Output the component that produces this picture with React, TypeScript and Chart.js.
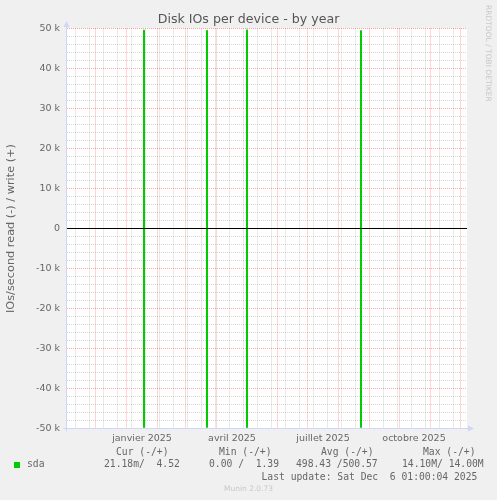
import React, { useEffect, useRef } from 'react';
import { Chart, registerables } from 'chart.js';

Chart.register(...registerables);

// ---------- data ----------
const TITLE = 'Disk IOs per device - by year';
const Y_TITLE = 'IOs/second read (-) / write (+)';
const WATERMARK = 'RRDTOOL / TOBI OETIKER';
const FOOTER = 'Munin 2.0.73';
const LAST_UPDATE = 'Last update: Sat Dec  6 01:00:04 2025';

// x values are days since 1 January 2025
const X_MIN = -59.5;
const X_MAX = 340.5;
const Y_MIN = -50000;
const Y_MAX = 50000;

const sampleDays = [-60, 17, 18, 80, 81, 120, 121, 234, 235, 341];
const writeValues = [3.1, 49600, 2.8, 49550, 3.4, 49650, 2.9, 49500, 4.52, 4.52];
const readValues = [0.05, 49800, 0.03, 49750, 0.02, 49800, 0.04, 49750, 0.02118, 0.02118];

const monthStartDays = [-31, 0, 31, 59, 90, 120, 151, 181, 212, 243, 273, 304, 334];
const weekGridDays = [
  -51, -37, -23, -9, 5, 19, 33, 47, 61, 75, 89, 103, 117, 131, 145, 159, 173, 187,
  201, 215, 229, 257, 271, 285, 299, 313, 327,
];
const quarterLabelDays = [15.5, 105.5, 196.5, 287.5];
const quarterLabels = ['janvier 2025', 'avril 2025', 'juillet 2025', 'octobre 2025'];

const yMajorValues = [50000, 40000, 30000, 20000, 10000, 0, -10000, -20000, -30000, -40000, -50000];
const yMajorLabels = ['50 k', '40 k', '30 k', '20 k', '10 k', '0', '-10 k', '-20 k', '-30 k', '-40 k', '-50 k'];
const Y_MINOR_STEP = 2000;

const legendName = 'sda';
const legendHeaders = ['Cur (-/+)', 'Min (-/+)', 'Avg (-/+)', 'Max (-/+)'];
const legendValues = ['21.18m/  4.52', '0.00 /  1.39', '498.43 /500.57', '14.10M/ 14.00M'];

// ---------- styles ----------
const GREEN = '#00CC00';
const FONT_COLOR = '#666666';
const GRID_GRAY = 'rgba(150,150,150,0.4)';
const GRID_RED = 'rgba(255,0,0,0.33)';
const AXIS_COLOR = '#CFD6F8';
const SANS = '"DejaVu Sans", sans-serif';
const MONO = '"DejaVu Sans Mono", monospace';

const monthSet = new Set(monthStartDays);
const ySet = new Set(yMajorValues);

const bgPlugin = {
  id: 'rrdBg',
  beforeDraw(chart: any) {
    const { ctx, chartArea: a } = chart;
    ctx.save();
    ctx.fillStyle = '#F0F0F0';
    ctx.fillRect(0, 0, chart.width, chart.height);
    ctx.fillStyle = '#FFFFFF';
    ctx.fillRect(a.left, a.top, a.right - a.left, a.bottom - a.top);
    ctx.restore();
  },
};

const axesPlugin = {
  id: 'rrdAxes',
  afterDatasetsDraw(chart: any) {
    const { ctx, chartArea: a } = chart;
    const ax = Math.floor(a.left) - 0.5;
    const ay = Math.floor(a.bottom) + 0.5;
    ctx.save();
    ctx.strokeStyle = AXIS_COLOR;
    ctx.fillStyle = AXIS_COLOR;
    ctx.lineWidth = 1;
    ctx.beginPath();
    ctx.moveTo(ax, ay + 3);
    ctx.lineTo(ax, a.top - 3);
    ctx.moveTo(ax - 3, ay);
    ctx.lineTo(a.right + 2, ay);
    ctx.stroke();
    ctx.beginPath();
    ctx.moveTo(ax - 3, a.top - 1.5);
    ctx.lineTo(ax + 3, a.top - 1.5);
    ctx.lineTo(ax, a.top - 7.5);
    ctx.closePath();
    ctx.fill();
    ctx.beginPath();
    ctx.moveTo(a.right + 1, ay - 3);
    ctx.lineTo(a.right + 1, ay + 3);
    ctx.lineTo(a.right + 7, ay);
    ctx.closePath();
    ctx.fill();
    ctx.restore();
  },
};

const footerPlugin = {
  id: 'rrdFooter',
  afterDraw(chart: any) {
    const { ctx } = chart;
    ctx.save();
    ctx.textBaseline = 'middle';
    ctx.textAlign = 'left';
    ctx.font = `9.7px ${MONO}`;
    ctx.fillStyle = FONT_COLOR;
    const headerX = [116, 219, 321, 423];
    const valueX = [104, 209, 296, 402];
    legendHeaders.forEach((t, i) => ctx.fillText(t, headerX[i], 452.5));
    ctx.fillStyle = GREEN;
    ctx.fillRect(14, 462, 6, 6);
    ctx.fillStyle = FONT_COLOR;
    ctx.fillText(legendName, 27, 464.5);
    legendValues.forEach((t, i) => ctx.fillText(t, valueX[i], 464.5));
    ctx.fillText(LAST_UPDATE, 261.5, 477.5);
    ctx.font = `7.5px ${SANS}`;
    ctx.fillStyle = '#C8C8C8';
    ctx.textAlign = 'center';
    ctx.fillText(FOOTER, 248.5, 489.5);
    ctx.translate(488, 5);
    ctx.rotate(Math.PI / 2);
    ctx.textAlign = 'left';
    ctx.fillText(WATERMARK, 0, 0);
    ctx.restore();
  },
};

export default function App() {
  const ref = useRef<HTMLCanvasElement>(null);

  useEffect(() => {
    const write = sampleDays.map((d, i) => ({ x: d, y: writeValues[i] }));
    const read = sampleDays.map((d, i) => ({ x: d, y: -readValues[i] }));
    const chart = new Chart(ref.current as HTMLCanvasElement, {
      type: 'line',
      data: {
        datasets: [
          {
            label: 'zero',
            data: [
              { x: X_MIN, y: 0 },
              { x: X_MAX, y: 0 },
            ],
            borderColor: '#000000',
            borderWidth: 1,
            pointRadius: 0,
            order: 0,
            xAxisID: 'x',
            yAxisID: 'y',
          },
          {
            label: 'write',
            data: write,
            stepped: 'before',
            borderColor: GREEN,
            borderWidth: 1,
            pointRadius: 0,
            order: 1,
            xAxisID: 'x',
            yAxisID: 'y',
          },
          {
            label: 'read',
            data: read,
            stepped: 'before',
            borderColor: GREEN,
            borderWidth: 1,
            pointRadius: 0,
            order: 1,
            xAxisID: 'x',
            yAxisID: 'y',
          },
        ],
      },
      options: {
        responsive: false,
        animation: false,
        devicePixelRatio: 1,
        layout: { padding: { left: 0, right: 0, top: 0, bottom: 0 } },
        plugins: {
          legend: { display: false },
          tooltip: { enabled: false },
          title: {
            display: true,
            text: TITLE,
            color: '#555555',
            font: { family: SANS, size: 12.6, weight: 'normal', lineHeight: 1.2 },
            padding: { top: 12.4, bottom: 0.98 },
          },
        },
        scales: {
          x: {
            type: 'linear',
            position: 'bottom',
            min: X_MIN,
            max: X_MAX,
            afterBuildTicks: (s: any) => {
              s.ticks = [...monthStartDays, ...weekGridDays].map((v) => ({ value: v }));
            },
            afterFit: (s: any) => {
              s.height = 0;
            },
            ticks: { display: false, autoSkip: false },
            grid: {
              drawTicks: false,
              lineWidth: 1,
              color: (c: any) => (c.tick && monthSet.has(c.tick.value) ? GRID_RED : GRID_GRAY),
            },
            border: { display: false, dash: [1, 1] },
          },
          xl: {
            type: 'linear',
            position: 'bottom',
            min: X_MIN,
            max: X_MAX,
            afterBuildTicks: (s: any) => {
              s.ticks = quarterLabelDays.map((v) => ({ value: v }));
            },
            afterFit: (s: any) => {
              s.height = 71.5;
            },
            ticks: {
              autoSkip: false,
              maxRotation: 0,
              padding: 4,
              color: FONT_COLOR,
              font: { family: SANS, size: 9.5 },
              callback: (_v: any, i: number) => quarterLabels[i],
            },
            grid: { display: false, drawTicks: false },
            border: { display: false },
          },
          y: {
            type: 'linear',
            position: 'left',
            min: Y_MIN,
            max: Y_MAX,
            afterBuildTicks: (s: any) => {
              const t: any[] = [];
              for (let v = Y_MIN; v <= Y_MAX; v += Y_MINOR_STEP) t.push({ value: v });
              s.ticks = t;
            },
            afterFit: (s: any) => {
              s.width = 67;
            },
            ticks: {
              autoSkip: false,
              padding: 7,
              color: FONT_COLOR,
              font: { family: SANS, size: 9.5 },
              callback: (v: any) => {
                const i = yMajorValues.indexOf(v);
                return i >= 0 ? yMajorLabels[i] : '';
              },
            },
            grid: {
              drawTicks: false,
              lineWidth: 1,
              color: (c: any) => (c.tick && ySet.has(c.tick.value) ? GRID_RED : GRID_GRAY),
            },
            border: { display: false, dash: [1, 1] },
            title: {
              display: true,
              text: Y_TITLE,
              color: FONT_COLOR,
              font: { family: SANS, size: 11.3, lineHeight: 1.2 },
              padding: { top: 4.2, bottom: 0 },
            },
          },
          yr: {
            type: 'linear',
            position: 'right',
            display: true,
            min: Y_MIN,
            max: Y_MAX,
            afterFit: (s: any) => {
              s.width = 30;
            },
            ticks: { display: false },
            grid: { display: false, drawTicks: false },
            border: { display: false },
          },
        },
      } as any,
      plugins: [bgPlugin, axesPlugin, footerPlugin],
    });
    return () => chart.destroy();
  }, []);

  return (
    <div style={{ position: 'absolute', left: 0, top: 0, width: 497, height: 500, background: '#F0F0F0' }}>
      <canvas ref={ref} width={497} height={500} style={{ display: 'block', width: 497, height: 500 }} />
    </div>
  );
}
